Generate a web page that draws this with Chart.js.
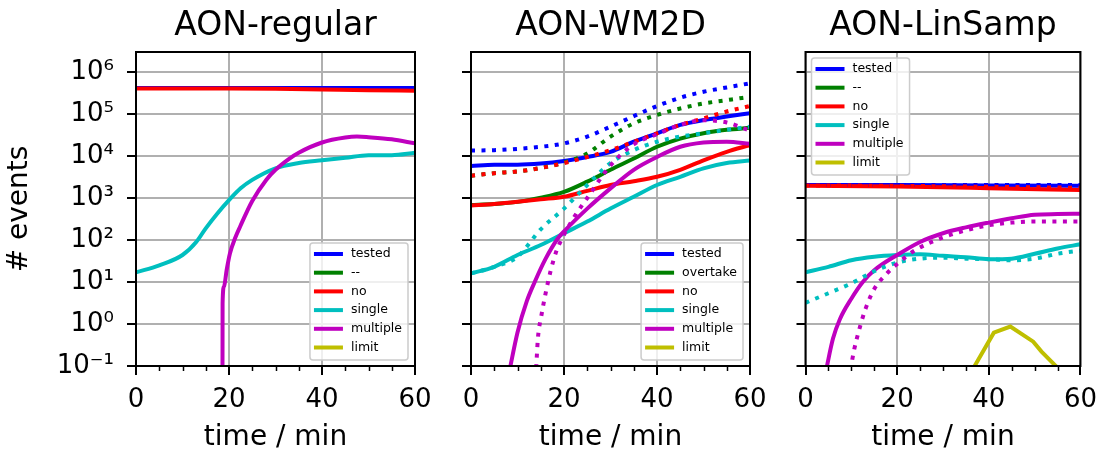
<!DOCTYPE html>
<html>
<head>
<meta charset="utf-8">
<script src="https://cdn.jsdelivr.net/npm/chart.js@4.4.1/dist/chart.umd.min.js"></script>
<style>
  body { margin: 0; background: #fff; }
  #wrap { position: relative; width: 1107px; height: 450px; }
  #wrap canvas { position: absolute; left: 0; top: 0; }
</style>
</head>
<body>
<div id="wrap">
  <canvas id="c1" width="1107" height="450"></canvas>
  <canvas id="c2" width="1107" height="450"></canvas>
  <canvas id="c3" width="1107" height="450"></canvas>
</div>
<script>
// panel titles / legend labels / ticks
const panelTitles = ['AON-regular', 'AON-WM2D', 'AON-LinSamp'];
const labelsRegular = ['tested', '--', 'no', 'single', 'multiple', 'limit'];
const labelsWM2D = ['tested', 'overtake', 'no', 'single', 'multiple', 'limit'];
const labelsLinSamp = ['tested', '--', 'no', 'single', 'multiple', 'limit'];
const yTickValues = [0.1, 1, 10, 100, 1e3, 1e4, 1e5, 1e6];
const xTickValues = [0, 20, 40, 60];

// AON-regular
const reg_t_tested = [0, 20, 40, 60];
const reg_tested = [415000, 415000, 415000, 415000];
const reg_t_no = [0, 20, 30, 40, 50, 60];
const reg_no = [405000, 405000, 400000, 385000, 370000, 360000];
const reg_t_single = [0, 5, 10, 13, 15, 17.5, 20, 22.5, 25, 30, 35, 40, 45, 50, 55, 60];
const reg_single = [17, 25, 44, 91, 190, 430, 890, 1700, 2700, 5100, 6800, 7900, 9100, 10500, 10500, 12000];
const reg_t_multiple = [18.6, 18.62, 18.92, 19.5, 20.2, 21.3, 22.4, 25, 28, 30, 33, 35, 40, 45, 47.5, 50, 55, 60];
const reg_multiple = [0.05, 3.1, 7.8, 19.5, 48, 110, 210, 850, 2700, 4700, 8700, 12000, 21000, 27500, 29000, 28000, 25000, 20000];

// AON-WM2D
const wm_t = [0, 5, 10, 15, 20, 25, 30, 35, 40, 45, 50, 55, 60];
const wm_tested = [5800, 6200, 6200, 6600, 7600, 9500, 12600, 21900, 34700, 55000, 72000, 87000, 105000];
const wm_tested_dot = [13500, 13800, 14800, 16600, 20000, 29000, 50000, 89000, 155000, 245000, 340000, 430000, 540000];
const wm_overtake = [680, 720, 810, 1020, 1400, 2450, 4700, 8700, 16600, 26000, 35000, 42000, 47000];
const wm_overtake_dot = [3400, 3900, 4300, 5200, 7000, 11500, 29000, 60000, 95000, 135000, 178000, 214000, 257000];
const wm_no = [660, 720, 810, 930, 1070, 1480, 2040, 2500, 3200, 4700, 7900, 12600, 18200];
const wm_no_dot = [3400, 3900, 4300, 5200, 6800, 9500, 13800, 21900, 34700, 55000, 79000, 115000, 155000];
const wm_single = [16, 23, 44, 76, 145, 275, 560, 1070, 2040, 3200, 5100, 6800, 7800];
const wm_single_dot = [16, 23, 40, 180, 560, 2040, 6800, 13800, 21900, 29000, 35000, 42000, 50000];
const wm_t_multiple = [8.3, 10, 12, 13.7, 16, 18.7, 20, 25, 30, 35, 40, 45, 50, 55, 60];
const wm_multiple = [0.08, 0.63, 3.5, 10, 35, 110, 160, 560, 1700, 4700, 9500, 16600, 21000, 22000, 19500];
const wm_t_multiple_dot = [13.9, 14.4, 15.1, 16, 17.1, 18.3, 19.6, 22.5, 25, 30, 35, 40, 45, 50, 55, 60];
const wm_multiple_dot = [0.05, 0.47, 1.5, 5.1, 18, 52, 110, 400, 1000, 6000, 19000, 33000, 55000, 71000, 63000, 40000];

// AON-LinSamp
const lin_t4 = [0, 20, 40, 60];
const lin_tested = [2050, 2050, 2000, 1950];
const lin_tested_dot = [2050, 2050, 2050, 2050];
const lin_no = [1950, 1880, 1720, 1550];
const lin_no_dot = [2000, 1950, 1850, 1750];
const lin_t = [0, 5, 10, 15, 20, 25, 30, 35, 40, 45, 50, 55, 60];
const lin_single = [17, 23, 33, 40, 44, 46, 42, 39, 35, 36, 47, 63, 79];
const lin_single_dot = [3.2, 5.4, 9.3, 18, 29, 36, 38, 36, 35, 33, 36, 47, 56];
const lin_t_multiple = [4.5, 6, 7.5, 10, 12.5, 15, 20, 25, 30, 35, 40, 45, 50, 55, 60];
const lin_multiple = [0.08, 0.45, 1.3, 4, 10, 19, 44, 90, 145, 200, 260, 330, 400, 415, 425];
const lin_t_multiple_dot = [9.8, 10.6, 11.7, 13.1, 15, 17.5, 20, 24, 30, 35, 40, 45, 50, 55, 60];
const lin_multiple_dot = [0.08, 0.24, 0.72, 2.3, 6.8, 15, 27, 58, 115, 170, 225, 260, 275, 275, 275];
const lin_t_limit = [36.4, 41.1, 44.7, 49.7, 51.5, 55.5];
const lin_limit = [0.08, 0.62, 0.87, 0.38, 0.22, 0.08];

const colors = ['#0000ff', '#008000', '#ff0000', '#00bfbf', '#bf00bf', '#bfbf00'];
const FONT = '"DejaVu Sans", sans-serif';

function pts(ts, vs) {
  return ts.map((t, i) => ({ x: t, y: vs[i] }));
}

function line(label, color, data, dotted, inLegend, straight) {
  return {
    label: label,
    data: data,
    borderColor: color,
    borderWidth: 4,
    borderDash: dotted ? [4, 6.5] : [],
    borderCapStyle: 'butt',
    pointRadius: 0,
    fill: false,
    clip: 0,
    tension: 0,
    cubicInterpolationMode: straight ? 'default' : 'monotone',
    inLegend: inLegend
  };
}

// solid lines (legend entries) first, dotted after
function buildSets(labels, solid, dotted) {
  const sets = [];
  solid.forEach((d, i) => sets.push(line(labels[i], colors[i], d, false, true, i === 5)));
  dotted.forEach(([i, d]) => sets.push(line(labels[i], colors[i], d, true, false, false)));
  sets.forEach((s, i) => s.order = -i);
  return sets;
}

const sup = { '-': '\u207B', '0': '\u2070', '1': '\u00B9', '2': '\u00B2', '3': '\u00B3',
  '4': '\u2074', '5': '\u2075', '6': '\u2076', '7': '\u2077', '8': '\u2078', '9': '\u2079' };
function powLabel(v) {
  const e = Math.round(Math.log10(v));
  return '10' + String(e).split('').map(c => sup[c]).join('');
}

// title, frame and minor ticks, legend box
const decor = {
  id: 'decor',
  afterDatasetsDraw(chart, args, opts) {
    const ctx = chart.ctx, a = chart.chartArea, xs = chart.scales.x;
    ctx.save();
    ctx.strokeStyle = '#000';
    ctx.lineWidth = 1.5;
    for (let t = 5; t < 60; t += 5) {
      if (t % 20 === 0) continue;
      const px = Math.round(xs.getPixelForValue(t)) + 0.5;
      ctx.beginPath();
      ctx.moveTo(px, a.bottom);
      ctx.lineTo(px, a.bottom + 5);
      ctx.stroke();
    }
    ctx.lineWidth = 2;
    ctx.strokeRect(a.left, a.top, a.right - a.left, a.bottom - a.top);
    ctx.restore();
  },
  afterDraw(chart, args, opts) {
    const ctx = chart.ctx, a = chart.chartArea;
    ctx.save();
    ctx.fillStyle = '#000';
    ctx.font = '33px ' + FONT;
    ctx.textAlign = 'center';
    ctx.textBaseline = 'alphabetic';
    ctx.fillText(opts.title, (a.left + a.right) / 2, 35);

    const items = chart.data.datasets.filter(d => d.inLegend);
    ctx.font = '12.5px ' + FONT;
    const tw = Math.max(...items.map(d => ctx.measureText(d.label).width));
    const rowH = 18.7;
    const w = 4 + 29 + 8 + tw + 6;
    const h = 11 + rowH * (items.length - 1) + 12.5;
    let x0, y0;
    if (opts.corner === 'tl') {
      x0 = a.left + 6; y0 = a.top + 6;
    } else {
      x0 = a.right - 7 - w; y0 = a.bottom - 6 - h;
    }
    ctx.beginPath();
    ctx.roundRect(x0, y0, w, h, 3);
    ctx.fillStyle = 'rgba(255,255,255,0.8)';
    ctx.fill();
    ctx.strokeStyle = '#cccccc';
    ctx.lineWidth = 1.5;
    ctx.stroke();
    items.forEach((d, i) => {
      const cy = y0 + 11 + i * rowH;
      ctx.strokeStyle = d.borderColor;
      ctx.lineWidth = 4;
      ctx.beginPath();
      ctx.moveTo(x0 + 4, cy);
      ctx.lineTo(x0 + 33, cy);
      ctx.stroke();
      ctx.fillStyle = '#000';
      ctx.textAlign = 'left';
      ctx.textBaseline = 'middle';
      ctx.fillText(d.label, x0 + 41, cy);
    });
    ctx.restore();
  }
};

function makeChart(id, title, sets, left, right, showY, corner) {
  const yW = showY ? 136 : 9;
  return new Chart(document.getElementById(id), {
    type: 'line',
    data: { datasets: sets },
    options: {
      responsive: false,
      animation: false,
      events: [],
      layout: { padding: { left: left - yW, right: 1107 - right, top: 52, bottom: 0 } },
      plugins: {
        legend: { display: false },
        tooltip: { enabled: false },
        decor: { title: title, corner: corner }
      },
      scales: {
        x: {
          type: 'linear', min: 0, max: 60,
          afterBuildTicks: s => { s.ticks = xTickValues.map(v => ({ value: v })); },
          grid: { color: '#b0b0b0', lineWidth: 2, tickColor: '#000', tickLength: 9, tickWidth: 2 },
          border: { display: false },
          ticks: { color: '#000', font: { family: FONT, size: 26 }, padding: 10, maxRotation: 0, autoSkip: false },
          title: { display: true, text: 'time / min', color: '#000', font: { family: FONT, size: 28 }, padding: { top: 0, bottom: -5 } },
          afterFit: s => { s.height = 84; }
        },
        y: {
          type: 'logarithmic', min: 0.1, max: 3e6,
          afterBuildTicks: s => { s.ticks = yTickValues.map(v => ({ value: v })); },
          grid: { color: '#b0b0b0', lineWidth: 2, tickColor: '#000', tickLength: 9, tickWidth: 2 },
          border: { display: false },
          ticks: { display: showY, color: '#000', font: { family: FONT, size: 26 }, padding: 13, autoSkip: false, callback: v => powLabel(v) },
          title: { display: showY, text: '# events', color: '#000', font: { family: FONT, size: 28 }, padding: { top: 3, bottom: 0 } },
          afterFit: s => { s.width = yW; }
        }
      }
    },
    plugins: [decor]
  });
}

makeChart('c1', panelTitles[0], buildSets(labelsRegular, [
  pts(reg_t_tested, reg_tested), [], pts(reg_t_no, reg_no),
  pts(reg_t_single, reg_single), pts(reg_t_multiple, reg_multiple), []
], []), 136, 415, true, 'br');

makeChart('c2', panelTitles[1], buildSets(labelsWM2D, [
  pts(wm_t, wm_tested), pts(wm_t, wm_overtake), pts(wm_t, wm_no),
  pts(wm_t, wm_single), pts(wm_t_multiple, wm_multiple), []
], [
  [0, pts(wm_t, wm_tested_dot)], [1, pts(wm_t, wm_overtake_dot)], [2, pts(wm_t, wm_no_dot)],
  [3, pts(wm_t, wm_single_dot)], [4, pts(wm_t_multiple_dot, wm_multiple_dot)]
]), 471, 750, false, 'br');

makeChart('c3', panelTitles[2], buildSets(labelsLinSamp, [
  pts(lin_t4, lin_tested), [], pts(lin_t4, lin_no),
  pts(lin_t, lin_single), pts(lin_t_multiple, lin_multiple), pts(lin_t_limit, lin_limit)
], [
  [0, pts(lin_t4, lin_tested_dot)], [2, pts(lin_t4, lin_no_dot)],
  [3, pts(lin_t, lin_single_dot)], [4, pts(lin_t_multiple_dot, lin_multiple_dot)]
]), 805.5, 1084.5, false, 'tl');
</script>
</body>
</html>
